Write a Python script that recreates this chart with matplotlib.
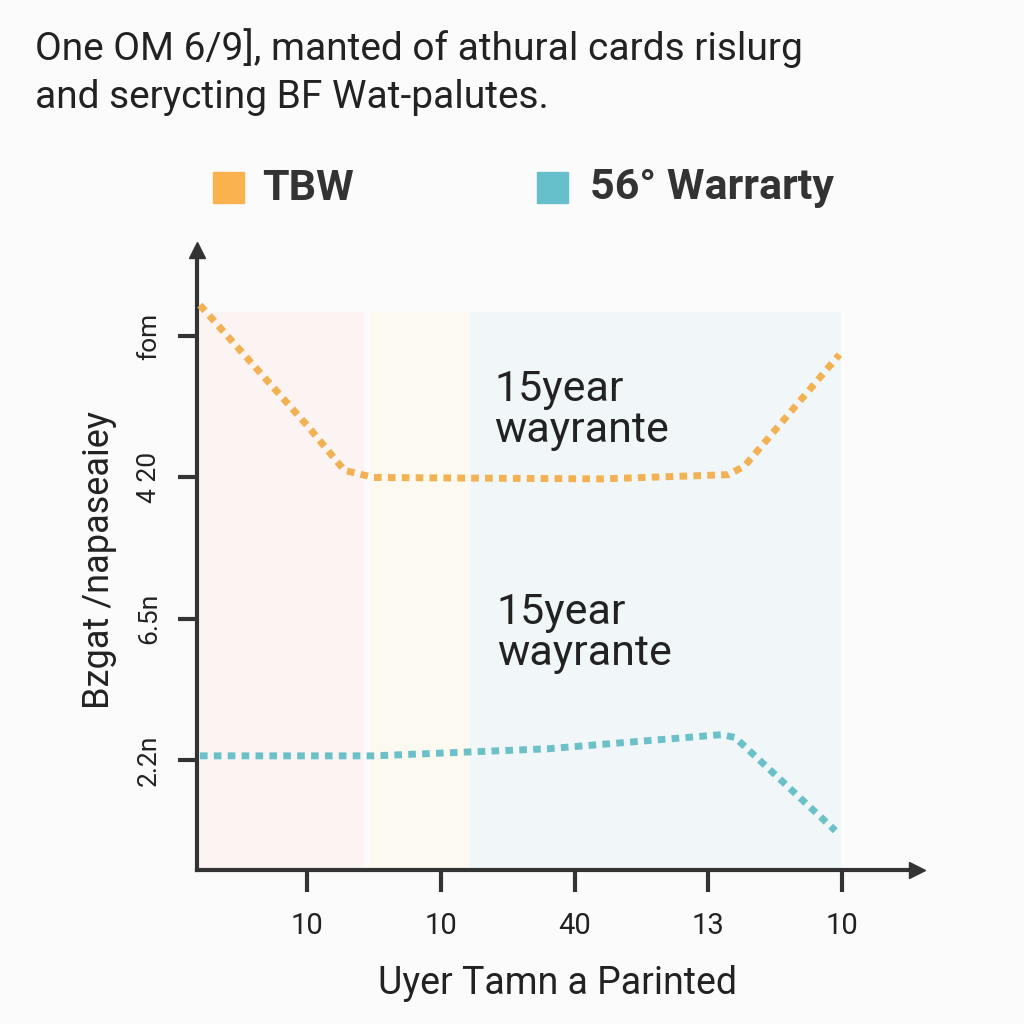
import matplotlib.pyplot as plt

# data
x_ticks = [1, 2, 3, 4, 5]
x_labels = ["10", "10", "40", "13", "10"]
y_ticks = [1, 2, 3, 4]
y_labels = ["2.2n", "6.5n", "4 20", "fom"]

tbw_x = [0.2, 1.0, 1.28, 1.5, 3.2, 4.15, 4.27, 4.98]
tbw_y = [4.22, 3.37, 3.05, 3.0, 2.99, 3.02, 3.08, 3.87]

war_x = [0.2, 1.5, 2.8, 4.1, 4.2, 4.95]
war_y = [1.03, 1.03, 1.08, 1.18, 1.16, 0.5]

bands = [(0.2, 1.43, "#fbf4f3"), (1.47, 2.22, "#fcfaf0"), (2.22, 4.99, "#f1f7f9")]

dark = "#333333"
orange = "#f2b152"
teal = "#6cc1c9"

plt.rcParams["font.family"] = ["Roboto", "DejaVu Sans"]

fig = plt.figure(figsize=(10.24, 10.24), dpi=100)
fig.patch.set_facecolor("#fbfbfb")
ax = fig.add_axes([197 / 1024, 154 / 1024, 720 / 1024, 620 / 1024])
ax.set_facecolor("none")

for x0, x1, c in bands:
    ax.axvspan(x0, x1, ymin=0, ymax=0.9, color=c, lw=0, zorder=0)

ax.plot(tbw_x, tbw_y, color=orange, lw=5, dashes=(1.1, 0.9), zorder=3)
ax.plot(war_x, war_y, color=teal, lw=5, dashes=(1.1, 0.9), zorder=3)

ax.text(2.4, 3.48, "15year\nwayrante", fontsize=31, color="#222222", va="center", ha="left", linespacing=1.0)
ax.text(2.42, 1.9, "15year\nwayrante", fontsize=31, color="#222222", va="center", ha="left", linespacing=1.0)

ax.set_xlim(0.178, 5.56)
ax.set_ylim(0.222, 4.61)

for s in ["top", "right"]:
    ax.spines[s].set_visible(False)
for s in ["left", "bottom"]:
    ax.spines[s].set_linewidth(3)
    ax.spines[s].set_color(dark)
ax.plot(1, 0, ">", color=dark, ms=12, transform=ax.transAxes, clip_on=False)
ax.plot(0, 1, "^", color=dark, ms=12, transform=ax.transAxes, clip_on=False)

ax.set_xticks(x_ticks)
ax.set_xticklabels(x_labels, fontsize=21, color="#222222")
ax.set_yticks(y_ticks)
ax.set_yticklabels(y_labels, fontsize=19, color="#222222", rotation=90, va="center")
ax.tick_params(axis="x", length=16, width=3, color=dark, pad=14)
ax.tick_params(axis="y", length=14, width=3, color=dark, pad=12)

ax.set_xlabel("Uyer Tamn a Parinted", fontsize=27, color="#222222", labelpad=18)
ax.set_ylabel("Bzgat /napaseaiey", fontsize=26, color="#222222", labelpad=14)

fig.text(35 / 1024, 1 - 48 / 1024, "One OM 6/9], manted of athural cards rislurg",
         fontsize=28, color="#222222", va="center")
fig.text(35 / 1024, 1 - 97 / 1024, "and serycting BF Wat-palutes.",
         fontsize=28, color="#222222", va="center")

# legend
fig.patches.append(plt.Rectangle((213 / 1024, 1 - 203 / 1024), 31 / 1024, 31 / 1024,
                                 transform=fig.transFigure, color="#f9b24e"))
fig.text(262 / 1024, 1 - 188 / 1024, "TBW", fontsize=31, fontweight="bold", color=dark, va="center")
fig.patches.append(plt.Rectangle((537 / 1024, 1 - 203 / 1024), 31 / 1024, 31 / 1024,
                                 transform=fig.transFigure, color="#66c0cc"))
fig.text(590 / 1024, 1 - 188 / 1024, "56° Warrarty", fontsize=31, fontweight="bold", color=dark, va="center")

fig.savefig("out.png", dpi=100, facecolor=fig.get_facecolor())
